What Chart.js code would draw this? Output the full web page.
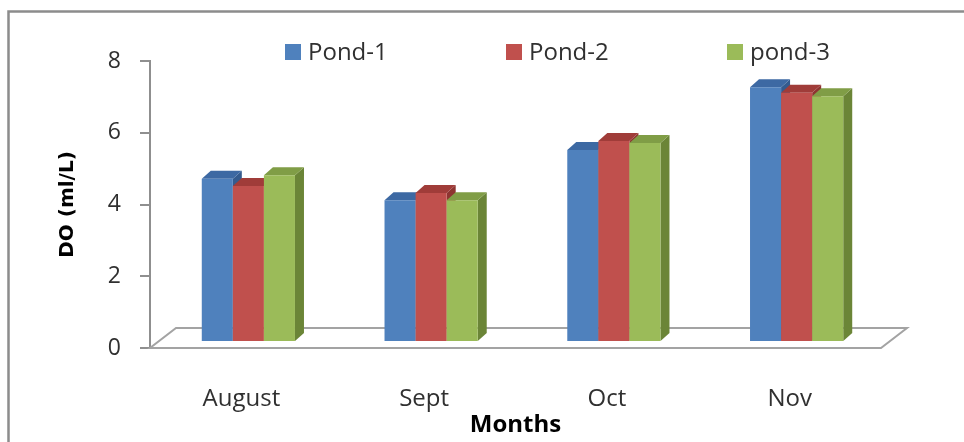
<!DOCTYPE html>
<html>
<head>
<meta charset="utf-8">
<script src="https://cdn.jsdelivr.net/npm/chart.js@4.4.0/dist/chart.umd.min.js"></script>
<style>
  html, body { margin: 0; padding: 0; background: #fff; }
  #wrap { width: 964px; height: 442px; position: relative; }
</style>
</head>
<body>
<div id="wrap"><canvas id="c" width="964" height="442"></canvas></div>
<script>
// Dissolved oxygen per month, three ponds
const months = ['August', 'Sept', 'Oct', 'Nov'];
const pond1 = [4.55, 3.95, 5.35, 7.1];
const pond2 = [4.35, 4.15, 5.6, 6.95];
const pond3 = [4.65, 3.95, 5.55, 6.85];
const seriesNames = ['Pond-1', 'Pond-2', 'pond-3'];
const yTickValues = [0, 2, 4, 6, 8];

const frontColors = ['#4F81BD', '#C0504D', '#9BBB59'];
const topColors   = ['#3D69A3', '#A03C39', '#809D46'];
const sideColors  = ['#345B8E', '#8E3431', '#6B8537'];

const FONT = '"Open Sans", "DejaVu Sans", sans-serif';

// depth of the floor and of each column, in pixels
const FLOOR_DEPTH = { dx: 26, dy: -20 };
const BAR_SHIFT   = { dx: 7,  dy: -6 };
const BAR_DEPTH   = { dx: 9,  dy: -8 };

function drawFloor(chart) {
  const ctx = chart.ctx;
  const { left, right } = chart.chartArea;
  const y0 = chart.scales.y.getPixelForValue(0);
  ctx.save();
  ctx.beginPath();
  ctx.moveTo(left, y0);
  ctx.lineTo(right, y0);
  ctx.lineTo(right + FLOOR_DEPTH.dx, y0 + FLOOR_DEPTH.dy);
  ctx.lineTo(left + FLOOR_DEPTH.dx, y0 + FLOOR_DEPTH.dy);
  ctx.closePath();
  ctx.fillStyle = '#ffffff';
  ctx.fill();
  ctx.strokeStyle = '#a3a3a3';
  ctx.lineWidth = 2;
  ctx.stroke();
  ctx.restore();
}

// The flat columns are skipped; each column is painted as a prism instead,
// left to right inside each group (side, top, then front), so that each
// column hides the side of its left neighbour.
const columns3d = {
  id: 'columns3d',
  beforeDatasetsDraw(chart) {
    drawFloor(chart);
  },
  beforeDatasetDraw() {
    return false;
  },
  afterDatasetsDraw(chart) {
    const ctx = chart.ctx;
    const dx = BAR_DEPTH.dx, dy = BAR_DEPTH.dy;
    ctx.save();
    ctx.translate(BAR_SHIFT.dx, BAR_SHIFT.dy);
    chart.data.datasets.forEach((ds, i) => {
      const meta = chart.getDatasetMeta(i);
      meta.data.forEach(bar => {
        const p = bar.getProps(['x', 'y', 'base', 'width'], true);
        const l = p.x - p.width / 2, r = p.x + p.width / 2;
        ctx.fillStyle = sideColors[i];
        ctx.beginPath();
        ctx.moveTo(r, p.y);
        ctx.lineTo(r + dx, p.y + dy);
        ctx.lineTo(r + dx, p.base + dy);
        ctx.lineTo(r, p.base);
        ctx.closePath();
        ctx.fill();
        ctx.fillStyle = topColors[i];
        ctx.beginPath();
        ctx.moveTo(l, p.y);
        ctx.lineTo(l + dx, p.y + dy);
        ctx.lineTo(r + dx, p.y + dy);
        ctx.lineTo(r, p.y);
        ctx.closePath();
        ctx.fill();
        bar.draw(ctx);
      });
    });
    ctx.restore();
  }
};

const legendRow = {
  id: 'legendRow',
  afterDraw(chart) {
    const ctx = chart.ctx;
    const y = 52;
    let x = chart.chartArea.left + 135;
    ctx.save();
    ctx.font = '24px ' + FONT;
    ctx.textBaseline = 'middle';
    ctx.textAlign = 'left';
    chart.data.datasets.forEach(ds => {
      ctx.fillStyle = ds.backgroundColor;
      ctx.fillRect(x, y - 8, 16, 16);
      ctx.fillStyle = '#303030';
      ctx.fillText(ds.label, x + 23, y + 1);
      x += 221;
    });
    ctx.restore();
  }
};

const frame = {
  id: 'frame',
  afterDraw(chart) {
    const ctx = chart.ctx;
    ctx.save();
    ctx.strokeStyle = '#8c8c8c';
    ctx.lineWidth = 2.5;
    ctx.strokeRect(8.5, 11.5, 1200, 800);
    ctx.restore();
  }
};

new Chart(document.getElementById('c'), {
  type: 'bar',
  data: {
    labels: months,
    datasets: [
      { label: seriesNames[0], data: pond1, backgroundColor: frontColors[0] },
      { label: seriesNames[1], data: pond2, backgroundColor: frontColors[1] },
      { label: seriesNames[2], data: pond3, backgroundColor: frontColors[2] }
    ]
  },
  options: {
    responsive: false,
    animation: false,
    layout: { padding: { top: 61, right: 83, bottom: 0, left: 40 } },
    datasets: {
      bar: { categoryPercentage: 0.51, barPercentage: 1.0, borderWidth: 0 }
    },
    plugins: {
      legend: { display: false },
      tooltip: { enabled: false }
    },
    scales: {
      x: {
        grid: { display: false },
        border: { display: false },
        ticks: {
          color: '#303030',
          font: { family: FONT, size: 24 },
          padding: 29,
          maxRotation: 0
        },
        title: {
          display: true,
          text: 'Months',
          color: '#000',
          font: { family: FONT, size: 24, weight: 'bold' },
          padding: { top: 0, bottom: 2 }
        },
        afterFit(scale) { scale.height = 94; }
      },
      y: {
        min: 0,
        max: 8,
        afterBuildTicks(scale) { scale.ticks = yTickValues.map(v => ({ value: v })); },
        grid: {
          display: true,
          drawOnChartArea: false,
          drawTicks: true,
          tickLength: 10,
          color: '#8f8f8f',
          lineWidth: 2
        },
        border: { display: true, color: '#8f8f8f', width: 2 },
        ticks: {
          color: '#303030',
          font: { family: FONT, size: 23 },
          padding: 19
        },
        title: {
          display: true,
          text: 'DO (ml/L)',
          color: '#000',
          font: { family: '"DejaVu Sans", sans-serif', size: 20, weight: 'bold' },
          padding: { top: 16, bottom: 0 }
        },
        afterFit(scale) { scale.width = 110; }
      }
    }
  },
  plugins: [columns3d, legendRow, frame]
});
</script>
</body>
</html>
